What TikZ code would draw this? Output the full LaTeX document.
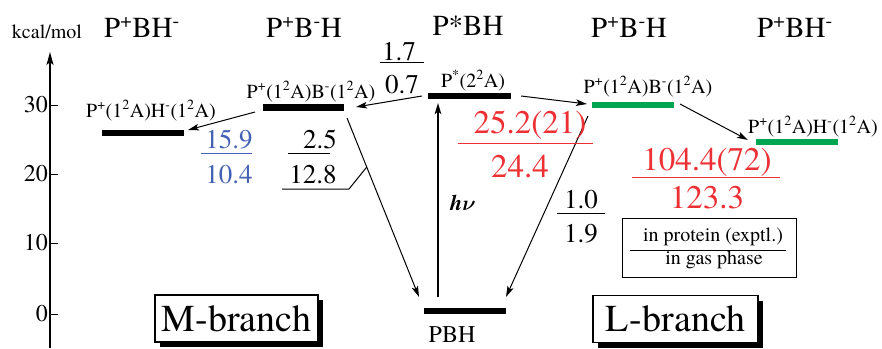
\documentclass[tikz,border=0pt]{standalone}
\usepackage{fontspec}
\usepackage{bm}
\IfFontExistsTF{texgyretermes-regular.otf}{%
  \setmainfont{texgyretermes}[Extension=.otf, UprightFont=*-regular, BoldFont=*-bold,
    ItalicFont=*-italic, BoldItalicFont=*-bolditalic]}{}
\usetikzlibrary{arrows.meta,shadows}
\newcommand\fsz[1]{\fontsize{#1}{#1}\selectfont}
\newcommand\sps[1]{\textsuperscript{#1}}
\definecolor{myblue}{RGB}{68,98,180}
\definecolor{myred}{RGB}{236,48,52}
\definecolor{mygreen}{RGB}{0,166,81}
\begin{document}
\begin{tikzpicture}[x=1pt,y=-1pt,
  hdr/.style={font=\fsz{29}, inner sep=0, anchor=base},
  lbl/.style={font=\fsz{20}, inner sep=0, anchor=base},
  num/.style={font=\fsz{27}, inner sep=0, anchor=base},
  rnum/.style={font=\fsz{33}, inner sep=0, anchor=base, text=myred},
  leg/.style={font=\fsz{20}, inner sep=0, anchor=base},
  tick/.style={font=\fsz{24}, inner sep=0, anchor=east},
  bar/.style={line width=6.5pt},
  arr/.style={-{Stealth[length=11pt,width=6.5pt,inset=2.5pt]}, line width=1pt},
  frac/.style={line width=1pt},
  branch/.style={draw, line width=1.2pt, fill=white, inner sep=0, font=\fsz{38},
    minimum height=47pt, drop shadow={shadow xshift=5pt, shadow yshift=-5pt, fill=black, opacity=1}}]
\useasboundingbox (0,0) rectangle (882,348);

% axis
\coordinate (axb) at (50,348);
\coordinate (axt) at (50,52);
\draw[line width=1.5pt, -{Stealth[length=13pt,width=7pt,inset=3pt]}] (axb) -- (axt);
\node[font=\fsz{20}, inner sep=0, anchor=base] (unit) at (47,38) {kcal/mol};
\foreach \v/\yy in {30/105, 20/174, 10/243, 0/314}{
  \draw[line width=1pt] (50,\yy) -- (58,\yy);
  \node[tick] (t\v) at (48,\yy) {\v};
}

% headers
\node[hdr] (h1) at (142,37) {P\sps{+}BH\sps{-}};
\node[hdr] (h2) at (304,37) {P\sps{+}B\sps{-}H};
\node[hdr] (h3) at (468,35) {P*BH};
\node[hdr] (h4) at (629,37) {P\sps{+}B\sps{-}H};
\node[hdr] (h5) at (795,37) {P\sps{+}BH\sps{-}};

% levels
\draw[bar] (102,133) coordinate (lHa) -- (184,133) coordinate (lHb);
\draw[bar] (263,107.5) coordinate (lBa) -- (344,107.5) coordinate (lBb);
\draw[bar] (428,96) coordinate (Pa) -- (511,96) coordinate (Pb);
\draw[bar, mygreen] (592,105) coordinate (rBa) -- (674,105) coordinate (rBb);
\draw[bar, mygreen] (756,142) coordinate (rHa) -- (838,142) coordinate (rHb);
\draw[bar] (424,311) coordinate (Ga) -- (506,311) coordinate (Gb);

% level labels
\node[lbl] (llH) at (151,117) {P\sps{+}(1\sps{2}A)H\sps{-}(1\sps{2}A)};
\node[lbl] (llB) at (311,98) {P\sps{+}(1\sps{2}A)B\sps{-}(1\sps{2}A)};
\node[lbl] (lP) at (473,87) {P\sps{*}(2\sps{2}A)};
\node[lbl] (lrB) at (648,93) {P\sps{+}(1\sps{2}A)B\sps{-}(1\sps{2}A)};
\node[lbl] (lrH) at (813,133) {P\sps{+}(1\sps{2}A)H\sps{-}(1\sps{2}A)};
\node[inner sep=0, anchor=base, font=\fsz{24}] (lG) at (452,342) {PBH};

% arrow end coordinates
\coordinate (a1s) at (422,96);  \coordinate (a1e) at (356,107);
\coordinate (a2s) at (255,112); \coordinate (a2e) at (188,130);
\coordinate (a3s) at (521,96);  \coordinate (a3e) at (587,104);
\coordinate (a4s) at (680,104); \coordinate (a4e) at (748,140);
\coordinate (a5s) at (438,297); \coordinate (a5e) at (438,103);
\coordinate (a6s) at (347,118); \coordinate (a6e) at (419,297);
\coordinate (a7s) at (588,116); \coordinate (a7e) at (506,297);

\draw[arr] (a1s) -- (a1e);
\draw[arr] (a2s) -- (a2e);
\draw[arr] (a3s) -- (a3e);
\draw[arr] (a4s) -- (a4e);
\draw[arr, line width=2pt] (a5s) -- (a5e);
\draw[arr] (a6s) -- coordinate[pos=0.274] (lead) (a6e);
\draw[arr] (a7s) -- (a7e);

\node[inner sep=0, anchor=base, font=\fsz{22}\bfseries\itshape] (hnu) at (463,210) {h$\bm{\nu}$};

% fractions
\node[num] (n17) at (399,60) {1.7};
\node[num] (n07) at (402,93) {0.7};
\draw[frac] (380,62) coordinate (f1a) -- (424,62) coordinate (f1b);

\node[num, text=myblue] (n159) at (229,148) {15.9};
\node[num, text=myblue] (n104) at (229,183) {10.4};
\draw[frac, myblue] (201,153) coordinate (f2a) -- (252,153) coordinate (f2b);

\node[num] (n25) at (320,148) {2.5};
\node[num] (n128) at (313,183) {12.8};
\draw[frac] (288,153) coordinate (f3a) -- (330,153) coordinate (f3b);
\draw[frac] (282,189) coordinate (ld1) -- (349,189) coordinate (ld2) -- (lead);

\node[rnum] (n252) at (530,133) {25.2(21)};
\node[rnum] (n244) at (520,177) {24.4};
\draw[frac, myred] (458,143) coordinate (f4a) -- (593,143) coordinate (f4b);

\node[rnum] (n1044) at (707,170) {104.4(72)};
\node[rnum] (n1233) at (707,208) {123.3};
\draw[frac, myred] (632,177) coordinate (f5a) -- (780,177) coordinate (f5b);

\node[num] (n10) at (581,208) {1.0};
\node[num] (n19) at (581,242) {1.9};
\draw[frac] (557,213) coordinate (f6a) -- (605,213) coordinate (f6b);

% legend
\draw[line width=1pt] (622,218) coordinate (lg1) rectangle (796,277) coordinate (lg2);
\node[leg] (lgt) at (713,241) {in protein (exptl.)};
\node[leg] (lgb) at (714,264) {in gas phase};
\draw[frac] (630,250) coordinate (f7a) -- (786,250) coordinate (f7b);

% branch boxes
\node[branch, minimum width=163pt] (mb) at (236.5,318.5) {M-branch};
\node[branch, minimum width=165pt] (lb) at (675.5,319) {L-branch};
\end{tikzpicture}
\end{document}
